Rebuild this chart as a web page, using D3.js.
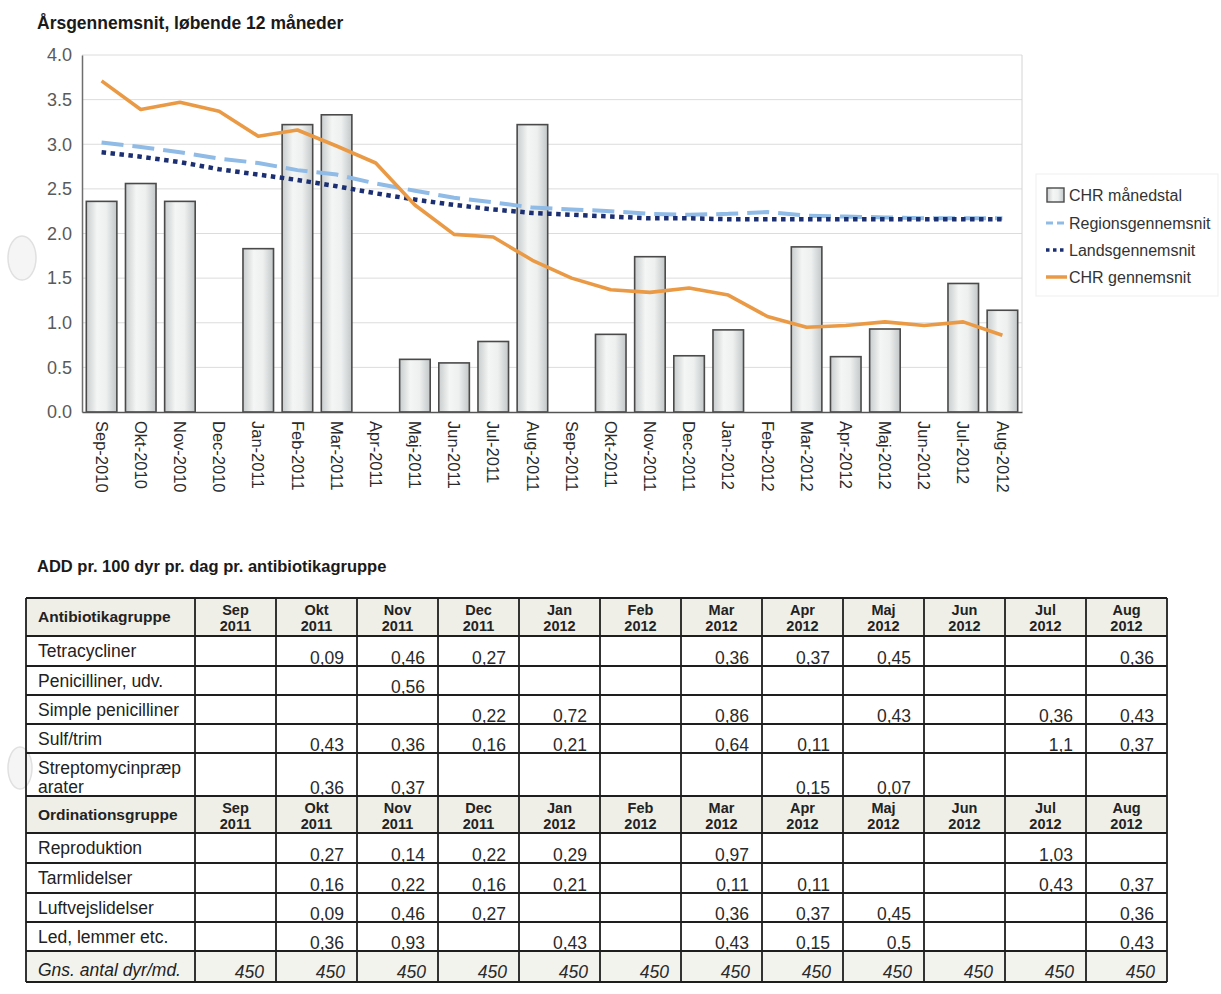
<!DOCTYPE html>
<html>
<head>
<meta charset="utf-8">
<script src="https://cdn.jsdelivr.net/npm/d3@7"></script>
<style>
  body { margin: 0; background: #fff; }
  svg { display: block; font-family: "Liberation Sans", Arial, sans-serif; }
</style>
</head>
<body>
<script>
// ---- Chart data: monthly CHR figures and 12-month running averages ----
const months = ["Sep-2010","Okt-2010","Nov-2010","Dec-2010","Jan-2011","Feb-2011","Mar-2011","Apr-2011",
  "Maj-2011","Jun-2011","Jul-2011","Aug-2011","Sep-2011","Okt-2011","Nov-2011","Dec-2011",
  "Jan-2012","Feb-2012","Mar-2012","Apr-2012","Maj-2012","Jun-2012","Jul-2012","Aug-2012"];
const chrMonthly = [2.36, 2.56, 2.36, 0, 1.83, 3.22, 3.33, 0, 0.59, 0.55, 0.79, 3.22,
  0, 0.87, 1.74, 0.63, 0.92, 0, 1.85, 0.62, 0.93, 0, 1.44, 1.14];
const regionAvg = [3.02, 2.97, 2.91, 2.84, 2.79, 2.71, 2.66, 2.56, 2.48, 2.40, 2.35, 2.29,
  2.27, 2.25, 2.22, 2.21, 2.22, 2.24, 2.20, 2.19, 2.18, 2.17, 2.17, 2.17];
const nationalAvg = [2.91, 2.86, 2.80, 2.72, 2.66, 2.60, 2.53, 2.45, 2.38, 2.32, 2.27, 2.23,
  2.21, 2.19, 2.17, 2.17, 2.16, 2.16, 2.16, 2.16, 2.16, 2.16, 2.16, 2.16];
const chrAvg = [3.71, 3.39, 3.47, 3.37, 3.09, 3.16, 2.98, 2.79, 2.32, 1.99, 1.96, 1.70,
  1.50, 1.37, 1.34, 1.39, 1.31, 1.07, 0.95, 0.97, 1.01, 0.97, 1.01, 0.86];
const yTicks = [0, 0.5, 1, 1.5, 2, 2.5, 3, 3.5, 4];
const legendLabels = ["CHR månedstal", "Regionsgennemsnit", "Landsgennemsnit", "CHR gennemsnit"];

// ---- Table data: ADD per 100 animals per day ----
const tableMonthNames = ["Sep","Okt","Nov","Dec","Jan","Feb","Mar","Apr","Maj","Jun","Jul","Aug"];
const tableYears = ["2011","2011","2011","2011","2012","2012","2012","2012","2012","2012","2012","2012"];
const antibioticGroups = ["Tetracycliner", "Penicilliner, udv.", "Simple penicilliner", "Sulf/trim", "Streptomycinpræp\narater"];
const antibioticValues = [
  [null, 0.09, 0.46, 0.27, null, null, 0.36, 0.37, 0.45, null, null, 0.36],
  [null, null, 0.56, null, null, null, null, null, null, null, null, null],
  [null, null, null, 0.22, 0.72, null, 0.86, null, 0.43, null, 0.36, 0.43],
  [null, 0.43, 0.36, 0.16, 0.21, null, 0.64, 0.11, null, null, 1.1, 0.37],
  [null, 0.36, 0.37, null, null, null, null, 0.15, 0.07, null, null, null]
];
const prescriptionGroups = ["Reproduktion", "Tarmlidelser", "Luftvejslidelser", "Led, lemmer etc."];
const prescriptionValues = [
  [null, 0.27, 0.14, 0.22, 0.29, null, 0.97, null, null, null, 1.03, null],
  [null, 0.16, 0.22, 0.16, 0.21, null, 0.11, 0.11, null, null, 0.43, 0.37],
  [null, 0.09, 0.46, 0.27, null, null, 0.36, 0.37, 0.45, null, null, 0.36],
  [null, 0.36, 0.93, null, 0.43, null, 0.43, 0.15, 0.5, null, null, 0.43]
];
const avgAnimalsLabel = "Gns. antal dyr/md.";
const avgAnimals = [450, 450, 450, 450, 450, 450, 450, 450, 450, 450, 450, 450];

// ---- Layout ----
const W = 1221, H = 994;
const svg = d3.select("body").append("svg").attr("width", W).attr("height", H);

const defs = svg.append("defs");
const grad = defs.append("linearGradient").attr("id", "barFill")
  .attr("x1", "0%").attr("x2", "100%").attr("y1", "0%").attr("y2", "0%");
[["0%", "#c9cdcd"], ["35%", "#f4f5f5"], ["65%", "#eef0f0"], ["100%", "#c3c7c7"]]
  .forEach(([o, c]) => grad.append("stop").attr("offset", o).attr("stop-color", c));

// Punched-hole marks along the left margin of the sheet
[[22, 258, 14, 22], [20, 768, 12, 21]].forEach(([cx, cy, rx, ry]) => {
  svg.append("ellipse").attr("cx", cx).attr("cy", cy).attr("rx", rx).attr("ry", ry)
    .attr("fill", "#f5f5f5").attr("stroke", "#e0e0e0").attr("stroke-width", 1.5);
});

// Titles
svg.append("text").attr("x", 37).attr("y", 29)
  .attr("font-size", 17.5).attr("font-weight", "bold").attr("fill", "#1a1a1a")
  .text("Årsgennemsnit, løbende 12 måneder");

const plot = { left: 82, right: 1022, top: 55, bottom: 412 };

const x = d3.scaleBand().domain(months).range([plot.left, plot.right])
  .paddingInner(0.22).paddingOuter(0.11);
const y = d3.scaleLinear().domain([0, 4]).range([plot.bottom, plot.top]);
const cx = m => x(m) + x.bandwidth() / 2;

// Gridlines
svg.append("g").selectAll("line").data(yTicks.filter(d => d > 0)).join("line")
  .attr("x1", plot.left).attr("x2", plot.right)
  .attr("y1", d => y(d)).attr("y2", d => y(d))
  .attr("stroke", "#dcdcdc").attr("stroke-width", 1);
svg.append("line").attr("x1", plot.right).attr("x2", plot.right)
  .attr("y1", plot.top).attr("y2", plot.bottom).attr("stroke", "#d4d4d4");

// Bars (monthly values)
svg.append("g").selectAll("rect").data(months.map((m, i) => ({ m, v: chrMonthly[i] })).filter(d => d.v > 0))
  .join("rect")
  .attr("x", d => x(d.m)).attr("width", x.bandwidth())
  .attr("y", d => y(d.v)).attr("height", d => y(0) - y(d.v))
  .attr("fill", "url(#barFill)").attr("stroke", "#4a4a4a").attr("stroke-width", 1.6);

// Axes
const yAxis = svg.append("g").attr("transform", `translate(${plot.left},0)`)
  .call(d3.axisLeft(y).tickValues(yTicks).tickFormat(d3.format(".1f")).tickSize(0).tickPadding(10));
yAxis.select(".domain").attr("stroke", "#6e6e6e").attr("stroke-width", 1.5);
yAxis.selectAll("text").attr("font-size", 18).attr("fill", "#5a5a5a")
  .attr("font-family", "'Liberation Sans', Arial, sans-serif");

const xAxis = svg.append("g").attr("transform", `translate(0,${plot.bottom})`)
  .call(d3.axisBottom(x).tickSize(0));
xAxis.select(".domain").attr("stroke", "#555").attr("stroke-width", 1.6);
xAxis.selectAll("text")
  .attr("transform", "rotate(90)").attr("x", 9).attr("y", 0).attr("dy", "0.35em")
  .attr("text-anchor", "start").attr("font-size", 16.5).attr("fill", "#2a2a2a")
  .attr("font-family", "'Liberation Sans', Arial, sans-serif");

// Running-average lines
const lineOf = vals => d3.line().x((d, i) => cx(months[i])).y(d => y(d))(vals);
svg.append("path").attr("d", lineOf(regionAvg)).attr("fill", "none")
  .attr("stroke", "#8fbbe6").attr("stroke-width", 4).attr("stroke-dasharray", "22,9");
svg.append("path").attr("d", lineOf(nationalAvg)).attr("fill", "none")
  .attr("stroke", "#1b2f72").attr("stroke-width", 4.5).attr("stroke-dasharray", "4.5,4.5");
svg.append("path").attr("d", lineOf(chrAvg)).attr("fill", "none")
  .attr("stroke", "#ea9a45").attr("stroke-width", 3.6).attr("stroke-linejoin", "round");

// Legend
const lg = svg.append("g");
lg.append("rect").attr("x", 1036).attr("y", 174).attr("width", 182).attr("height", 122)
  .attr("fill", "#fff").attr("stroke", "#efefef");
const legendY = [195, 223, 250, 277];
lg.append("rect").attr("x", 1047).attr("y", legendY[0] - 7).attr("width", 17).attr("height", 14)
  .attr("fill", "url(#barFill)").attr("stroke", "#4a4a4a").attr("stroke-width", 1.4);
lg.append("line").attr("x1", 1046).attr("x2", 1067).attr("y1", legendY[1]).attr("y2", legendY[1])
  .attr("stroke", "#8fbbe6").attr("stroke-width", 3).attr("stroke-dasharray", "7,4");
lg.append("line").attr("x1", 1046).attr("x2", 1067).attr("y1", legendY[2]).attr("y2", legendY[2])
  .attr("stroke", "#1b2f72").attr("stroke-width", 3.5).attr("stroke-dasharray", "3.5,3.5");
lg.append("line").attr("x1", 1046).attr("x2", 1067).attr("y1", legendY[3]).attr("y2", legendY[3])
  .attr("stroke", "#ea9a45").attr("stroke-width", 3.5);
lg.selectAll("text.lab").data(legendLabels).join("text").attr("class", "lab")
  .attr("x", 1069).attr("y", (d, i) => legendY[i]).attr("dy", "0.35em")
  .attr("font-size", 16).attr("fill", "#333").text(d => d);

// ---- Table ----
svg.append("text").attr("x", 37).attr("y", 572)
  .attr("font-size", 16.5).attr("font-weight", "bold").attr("fill", "#1a1a1a")
  .text("ADD pr. 100 dyr pr. dag pr. antibiotikagruppe");

const tbl = { left: 26, labelRight: 195, right: 1167, top: 598 };
const col = d3.scaleBand().domain(d3.range(12)).range([tbl.labelRight, tbl.right]).padding(0);
const fmt = v => String(v).replace(".", ",");

const rows = [];
rows.push({ kind: "header", label: "Antibiotikagruppe", h: 38 });
antibioticGroups.forEach((g, i) => rows.push({ kind: "data", label: g, vals: antibioticValues[i], h: g.includes("\n") ? 43 : (i === 0 ? 30 : 29) }));
rows.push({ kind: "header", label: "Ordinationsgruppe", h: 37 });
prescriptionGroups.forEach((g, i) => rows.push({ kind: "data", label: g, vals: prescriptionValues[i], h: i < 2 ? 30 : 29 }));
rows.push({ kind: "avg", label: avgAnimalsLabel, vals: avgAnimals, h: 31 });
let yy = tbl.top;
rows.forEach(r => { r.y = yy; yy += r.h; });
const tblBottom = yy;

const tg = svg.append("g");
// shaded rows
tg.selectAll("rect.shade").data(rows.filter(r => r.kind !== "data")).join("rect").attr("class", "shade")
  .attr("x", tbl.left).attr("y", d => d.y).attr("width", tbl.right - tbl.left).attr("height", d => d.h)
  .attr("fill", d => d.kind === "header" ? "#efefe7" : "#f3f3ee");

rows.forEach(r => {
  const g = tg.append("g");
  if (r.kind === "header") {
    g.append("text").attr("x", 38).attr("y", r.y + r.h / 2 + 5)
      .attr("font-size", 15.5).attr("font-weight", "bold").attr("fill", "#222").text(r.label);
    tableMonthNames.forEach((m, j) => {
      const xc = col(j) + col.bandwidth() / 2;
      g.append("text").attr("x", xc).attr("y", r.y + 17).attr("text-anchor", "middle")
        .attr("font-size", 14.5).attr("font-weight", "bold").attr("fill", "#222").text(m);
      g.append("text").attr("x", xc).attr("y", r.y + 33).attr("text-anchor", "middle")
        .attr("font-size", 14.5).attr("font-weight", "bold").attr("fill", "#222").text(tableYears[j]);
    });
  } else {
    const italic = r.kind === "avg";
    const lines = r.label.split("\n");
    lines.forEach((t, k) => {
      g.append("text").attr("x", 38)
        .attr("y", italic ? r.y + 25 : r.y + 21 + k * 19)
        .attr("font-size", 17.5).attr("fill", "#222")
        .attr("font-style", italic ? "italic" : "normal").text(t);
    });
    r.vals.forEach((v, j) => {
      if (v == null) return;
      g.append("text").attr("x", col(j) + col.bandwidth() - (italic ? 12 : 13))
        .attr("y", r.y + r.h - (italic ? 4 : 2.5)).attr("text-anchor", "end")
        .attr("font-size", 17.5).attr("fill", "#2a2a2a")
        .attr("font-style", italic ? "italic" : "normal").text(fmt(v));
    });
  }
});

// grid lines of the table
const hEdges = rows.map(r => r.y).concat([tblBottom]);
tg.selectAll("line.h").data(hEdges).join("line").attr("class", "h")
  .attr("x1", tbl.left).attr("x2", tbl.right).attr("y1", d => d).attr("y2", d => d)
  .attr("stroke", "#1e1e1e").attr("stroke-width", 2);
const vEdges = [tbl.left].concat(d3.range(12).map(j => col(j)), [tbl.right]);
tg.selectAll("line.v").data(vEdges).join("line").attr("class", "v")
  .attr("x1", d => d).attr("x2", d => d).attr("y1", tbl.top).attr("y2", tblBottom)
  .attr("stroke", "#1e1e1e").attr("stroke-width", 1.8);
</script>
</body>
</html>
